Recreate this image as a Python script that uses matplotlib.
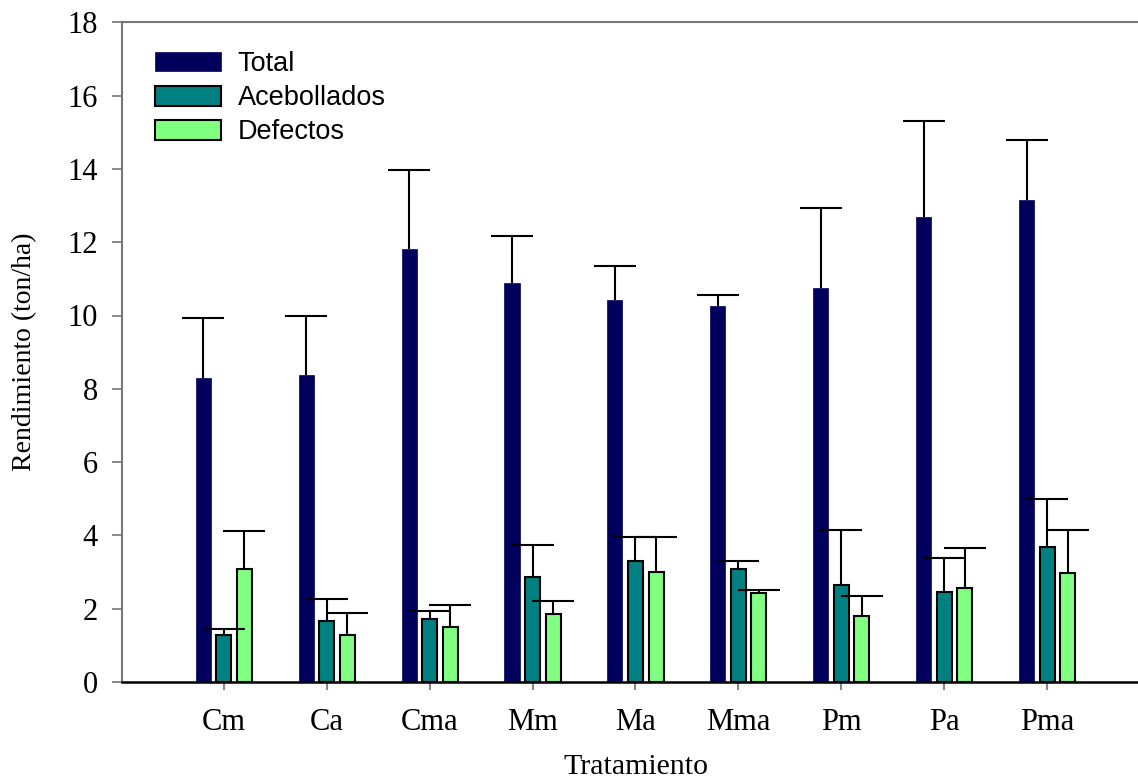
import numpy as np
import matplotlib
matplotlib.use("Agg")
import matplotlib.pyplot as plt
from matplotlib.patches import Patch

# Treatments and mean yields (ton/ha) with upper error (standard deviation)
tratamientos = ["Cm", "Ca", "Cma", "Mm", "Ma", "Mma", "Pm", "Pa", "Pma"]

total = [8.30, 8.39, 11.81, 10.90, 10.43, 10.26, 10.75, 12.68, 13.15]
total_err = [1.63, 1.60, 2.16, 1.27, 0.93, 0.29, 2.18, 2.64, 1.64]

acebollados = [1.28, 1.67, 1.72, 2.86, 3.29, 3.07, 2.64, 2.46, 3.68]
acebollados_err = [0.17, 0.59, 0.23, 0.88, 0.67, 0.24, 1.51, 0.92, 1.31]

defectos = [3.07, 1.29, 1.51, 1.85, 3.01, 2.42, 1.80, 2.56, 2.97]
defectos_err = [1.05, 0.59, 0.59, 0.37, 0.95, 0.10, 0.56, 1.09, 1.17]

series_names = ["Total", "Acebollados", "Defectos"]
colors = ["#00005C", "#008080", "#80FF80"]

W, H = 1138, 784
fig = plt.figure(figsize=(W / 100, H / 100), dpi=100)
ax = fig.add_axes([122 / W, 102 / H, 1028 / W, 659.7 / H])

x = np.arange(len(tratamientos))
bw = 0.146
off = 0.2

serif = "Liberation Serif"
sans = "Liberation Sans"

series = [
    (x - off, total, total_err, colors[0], colors[0], 0.5),
    (x, acebollados, acebollados_err, colors[1], "black", 1.5),
    (x + off, defectos, defectos_err, colors[2], "black", 1.5),
]

for pos, vals, errs, fc, ec, lw in series:
    ax.bar(pos, vals, bw, color=fc, edgecolor=ec, linewidth=lw, zorder=2)
    # one-sided (upper) error bars; hide the cap at the bar top
    _, caps, _ = ax.errorbar(pos, vals, yerr=[np.zeros(len(vals)), errs],
                             fmt="none", ecolor="black", elinewidth=1.5,
                             capsize=15, capthick=1.5, zorder=3)
    caps[0].set_visible(False)

ax.set_xlim(-0.99, 9)
ax.set_ylim(0, 18)
ax.set_yticks(np.arange(0, 19, 2))
ax.set_xticks(x)
ax.set_xticklabels(tratamientos)

for lab in ax.get_xticklabels() + ax.get_yticklabels():
    lab.set_fontfamily(serif)
    lab.set_fontsize(22)

ax.tick_params(axis="y", direction="out", length=7.5, width=1.2, color="#777777", pad=10)
ax.tick_params(axis="x", direction="out", length=6, width=1.5, color="#888888", pad=13)

for side in ["left", "top"]:
    ax.spines[side].set_color("#777777")
    ax.spines[side].set_linewidth(1.5)
ax.spines["bottom"].set_color("black")
ax.spines["bottom"].set_linewidth(1.8)
ax.spines["right"].set_visible(False)

ax.set_ylabel("Rendimiento (ton/ha)", fontfamily=serif, fontsize=20)
ax.yaxis.set_label_coords(-0.0944, 0.5)
ax.yaxis.label.set_va("center")
ax.set_xlabel("Tratamiento", fontfamily=serif, fontsize=21.5)
ax.xaxis.set_label_coords(0.5, -0.129)
ax.xaxis.label.set_va("center")

handles = [
    Patch(facecolor=colors[0], edgecolor=colors[0], linewidth=0.5),
    Patch(facecolor=colors[1], edgecolor="black", linewidth=1.5),
    Patch(facecolor=colors[2], edgecolor="black", linewidth=1.5),
]
leg = ax.legend(handles, series_names, loc="upper left",
                bbox_to_anchor=(155 / W, 1 - 51 / H), bbox_transform=fig.transFigure,
                frameon=False, prop={"family": sans, "size": 19.5},
                handlelength=2.44, handleheight=0.74, handletextpad=0.62,
                labelspacing=0.3, borderaxespad=0, borderpad=0)

fig.savefig("out.png", dpi=100)
